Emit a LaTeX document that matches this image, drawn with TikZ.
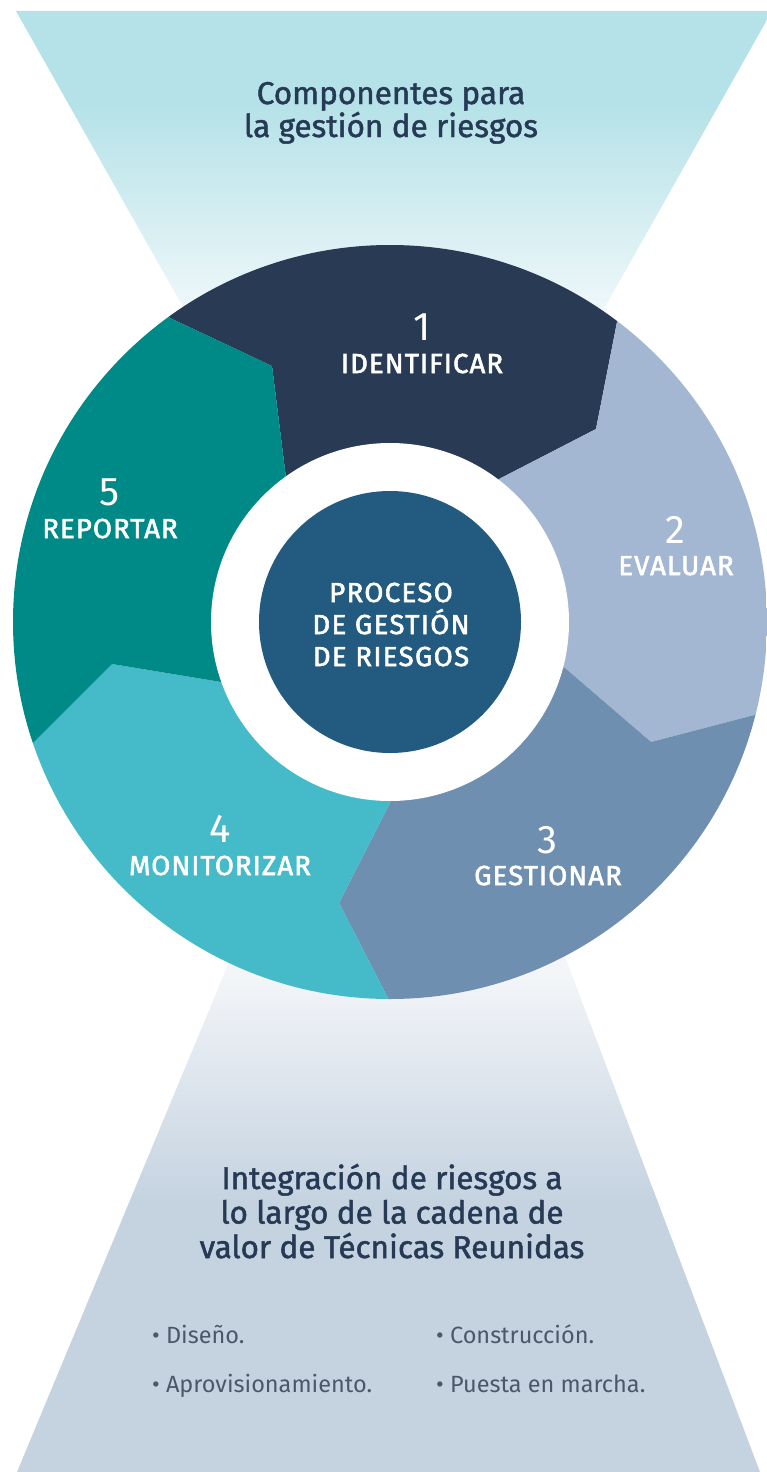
\documentclass[tikz,border=0pt]{standalone}
\usepackage{fontspec}
\setmainfont{Fira Sans}
\newfontfamily\medfont[FakeBold=1.5]{Fira Sans}
\newfontfamily\labfont[FakeBold=2.2, LetterSpace=4]{Fira Sans}
\newfontfamily\hubfont[FakeBold=2.2, LetterSpace=5]{Fira Sans}
\usepackage{xcolor}
\usetikzlibrary{positioning}

\definecolor{topcyan}{HTML}{B5E2E8}
\definecolor{topfade}{HTML}{F0F8FA}
\definecolor{botfade}{HTML}{F3F5F8}
\definecolor{botgray}{HTML}{C5D3E1}
\definecolor{segone}{HTML}{283A54}
\definecolor{segtwo}{HTML}{A3B6D2}
\definecolor{segthree}{HTML}{6E8FB0}
\definecolor{segfour}{HTML}{45BBC9}
\definecolor{segfive}{HTML}{008A87}
\definecolor{hubblue}{HTML}{235A80}
\definecolor{inkdark}{HTML}{263A55}
\definecolor{inkgray}{HTML}{4C5869}

\begin{document}
\begin{tikzpicture}[
    x=1pt, y=-1pt,
    title/.style={anchor=base, inner sep=0pt, text=inkdark, font=\medfont\fontsize{31.5}{33}\selectfont},
    stepnum/.style={anchor=base, inner sep=0pt, text=white, font=\fontsize{40}{40}\selectfont},
    steplabel/.style={anchor=base, inner sep=0pt, text=white, font=\labfont\fontsize{27.5}{28}\selectfont},
    hubtext/.style={anchor=base, inner sep=0pt, text=white, font=\hubfont\fontsize{27.5}{28}\selectfont},
    item/.style={anchor=base west, inner sep=0pt, text=inkgray, font=\fontsize{23.5}{24}\selectfont}
]
\useasboundingbox (0,0) rectangle (767,1472);

% Funnels
\begin{scope}
  \clip (16,11) -- (772,11) -- (394,681) -- cycle;
  \fill[topcyan] (0,0) rectangle (800,105);
  \shade[top color=topcyan, bottom color=topfade] (0,105) rectangle (800,315);
  \fill[topfade] (0,315) rectangle (800,700);
\end{scope}
\begin{scope}
  \clip (17,1472) -- (760,1472) -- (567,962) -- (392,500) -- (227,967) -- cycle;
  \fill[botfade] (0,480) rectangle (800,975);
  \shade[top color=botfade, bottom color=botgray] (0,975) rectangle (800,1200);
  \fill[botgray] (0,1200) rectangle (800,1480);
\end{scope}

% Ring boundaries: inner, kink, outer, far
\coordinate (hub) at (390,622);
\coordinate (a1) at (286,478); \coordinate (b1) at (272,366); \coordinate (c1) at (170,318); \coordinate (d1) at (-50,14);
\coordinate (a2) at (499,479); \coordinate (b2) at (596,429); \coordinate (c2) at (617,322); \coordinate (d2) at (844,22);
\coordinate (a3) at (565,668); \coordinate (b3) at (651,742); \coordinate (c3) at (758,714); \coordinate (d3) at (1126,806);
\coordinate (a4) at (390,803); \coordinate (b4) at (339,903); \coordinate (c4) at (390,1002); \coordinate (d4) at (390,1382);
\coordinate (a5) at (221,682); \coordinate (b5) at (112,664); \coordinate (c5) at (33,743); \coordinate (d5) at (-324,864);

% Ring segments
\begin{scope}
  \clip (hub) circle (377);
  \fill[segone] (hub) -- (a1) -- (b1) -- (c1) -- (d1) -- (d2) -- (c2) -- (b2) -- (a2) -- cycle;
  \fill[segtwo] (hub) -- (a2) -- (b2) -- (c2) -- (d2) -- (d3) -- (c3) -- (b3) -- (a3) -- cycle;
  \fill[segthree] (hub) -- (a3) -- (b3) -- (c3) -- (d3) -- (d4) -- (c4) -- (b4) -- (a4) -- cycle;
  \fill[segfour] (hub) -- (a4) -- (b4) -- (c4) -- (d4) -- (d5) -- (c5) -- (b5) -- (a5) -- cycle;
  \fill[segfive] (hub) -- (a5) -- (b5) -- (c5) -- (d5) -- (d1) -- (c1) -- (b1) -- (a1) -- cycle;
\end{scope}
\fill[white] (hub) circle (179);
\fill[hubblue] (hub) circle (131);

% Titles
\foreach \t [count=\i] in {Componentes para, la gestión de riesgos}
  \node[title] (head\i) at (391,71+33*\i) {\t};
\foreach \t [count=\i] in {Integración de riesgos a, lo largo de la cadena de, valor de Técnicas Reunidas}
  \node[title] (foot\i) at (392,1154.5+34.5*\i) {\t};

% Steps
\node[stepnum] (n1) at (422,340) {1};
\node[steplabel] (s1) at (422,373) {IDENTIFICAR};
\node[stepnum] (n2) at (675,543) {2};
\node[steplabel] (s2) at (676,575) {EVALUAR};
\node[stepnum] (n3) at (547,853) {3};
\node[steplabel] (s3) at (548,885) {GESTIONAR};
\node[stepnum] (n4) at (220,842) {4};
\node[steplabel] (s4) at (220,875) {MONITORIZAR};
\node[stepnum] (n5) at (110,505) {5};
\node[steplabel] (s5) at (110,538) {REPORTAR};

% Hub
\foreach \t [count=\i] in {PROCESO, DE GESTIÓN, DE RIESGOS}
  \node[hubtext] (hub\i) at (391,570+32*\i) {\t};

% Value chain
\node[item] (i1) at (152,1343) {\textbullet\ Diseño.};
\node[item] (i2) at (152,1392) {\textbullet\ Aprovisionamiento.};
\node[item] (i3) at (436,1343) {\textbullet\ Construcción.};
\node[item] (i4) at (436,1392) {\textbullet\ Puesta en marcha.};

\end{tikzpicture}
\end{document}
